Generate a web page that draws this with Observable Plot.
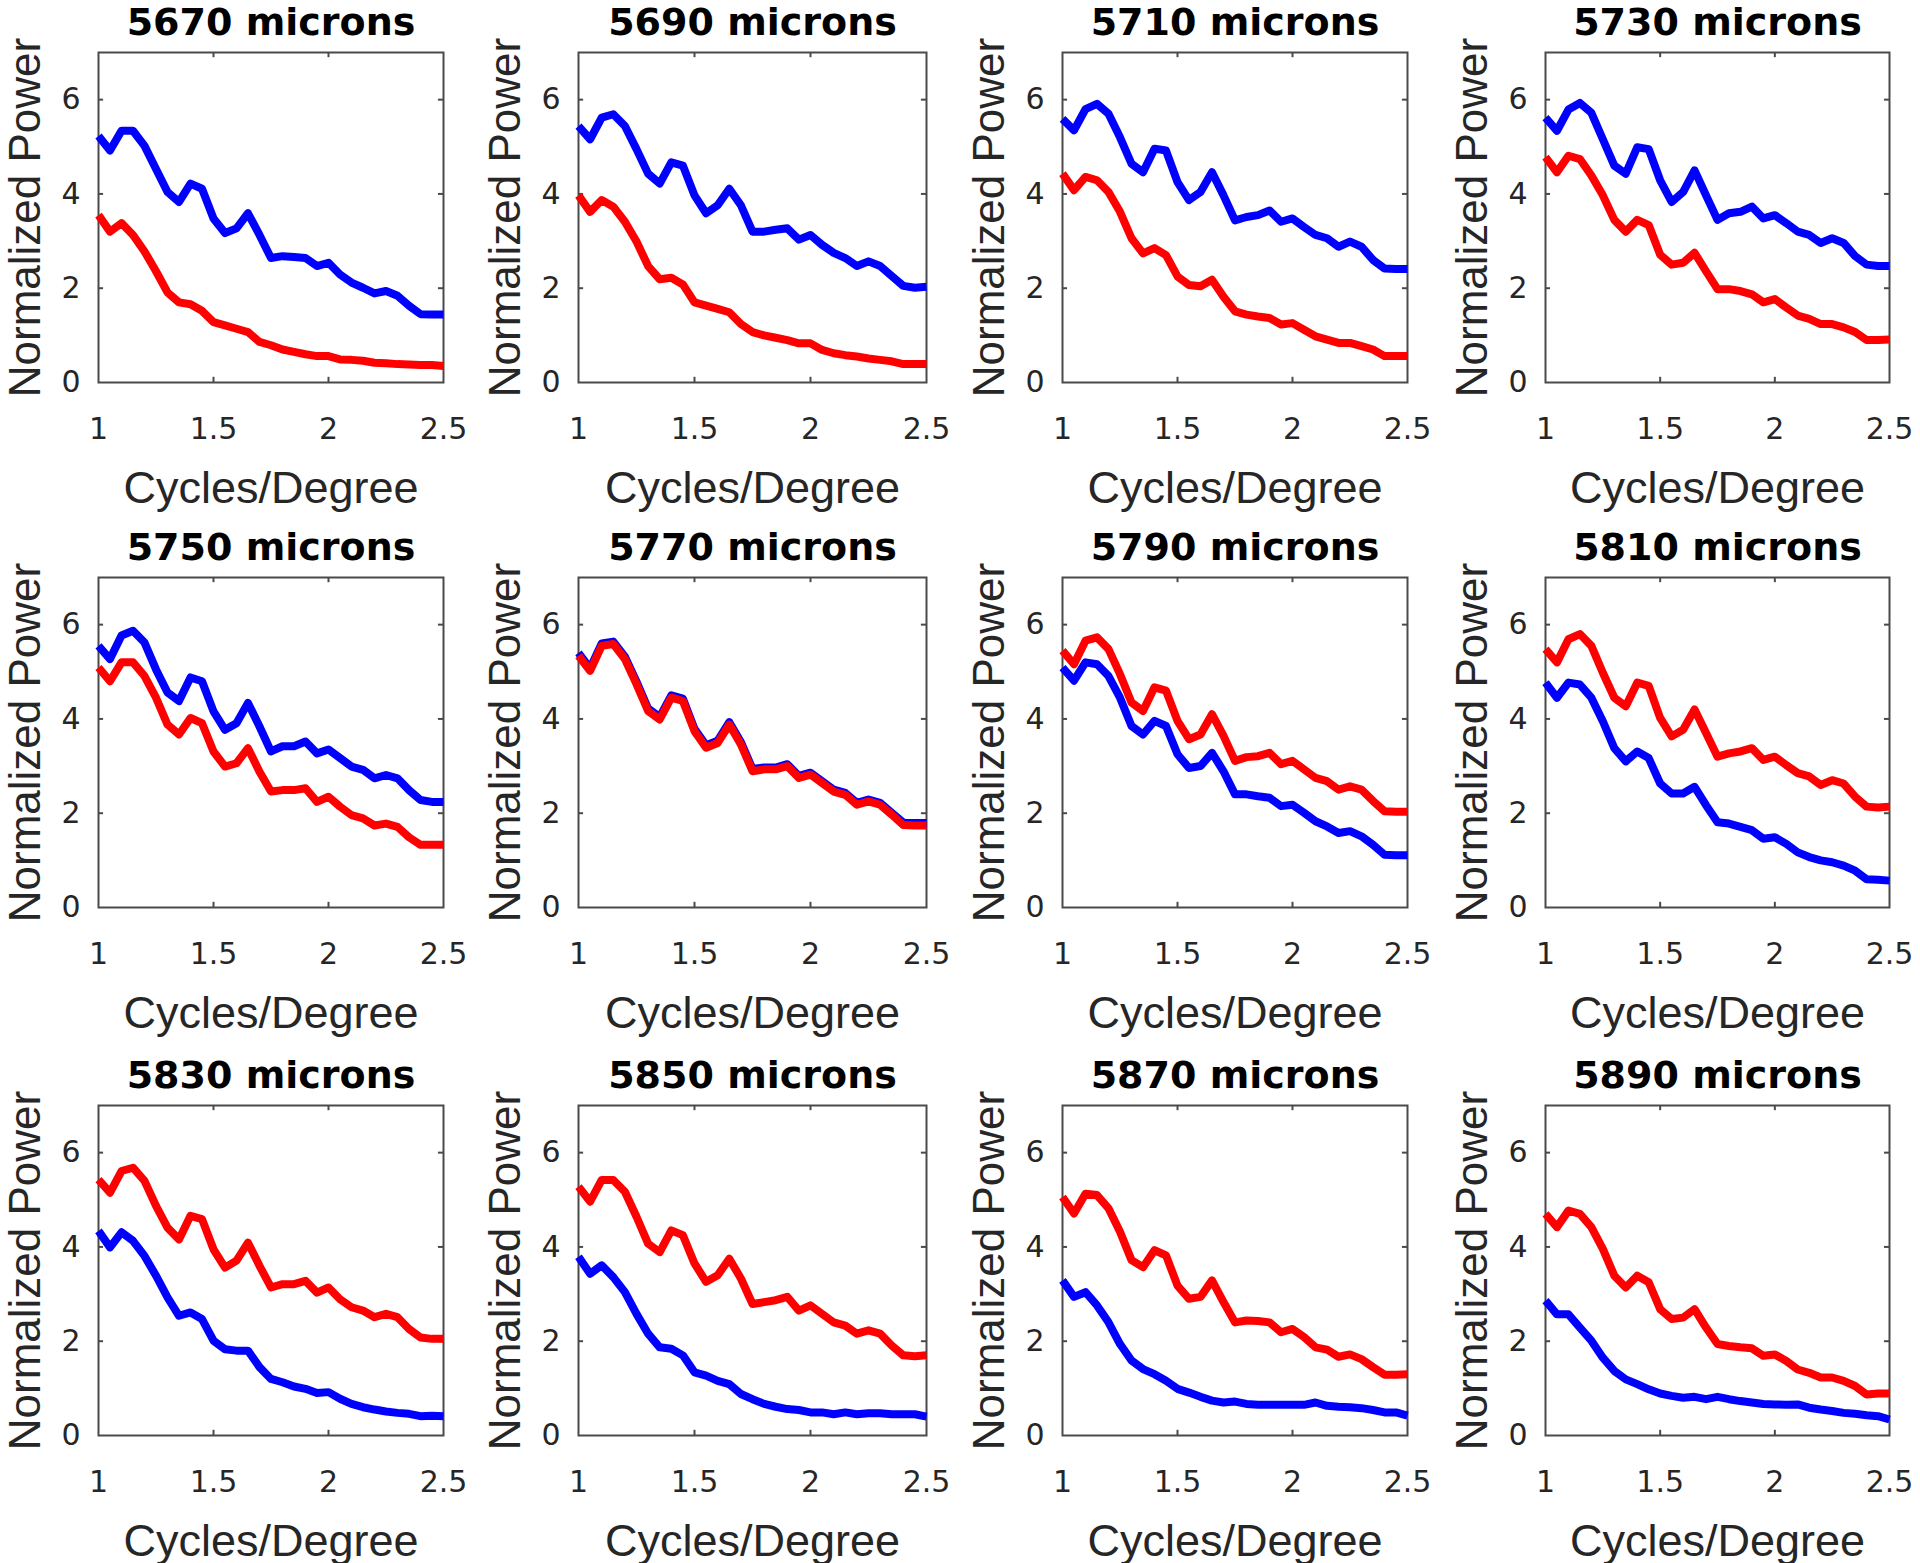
<!DOCTYPE html>
<html>
<head>
<meta charset="utf-8">
<script src="https://cdn.jsdelivr.net/npm/d3@7"></script>
<script src="https://cdn.jsdelivr.net/npm/@observablehq/plot@0.6"></script>
<style>
  html, body { margin: 0; padding: 0; background: #fff; overflow: hidden; }
  #fig { position: relative; width: 1920px; height: 1563px; background: #fff; }
  #fig svg { position: absolute; overflow: visible; }
</style>
</head>
<body>
<div id="fig"></div>
<script>
// ---- data ----
const freq = [1.00,1.05,1.10,1.15,1.20,1.25,1.30,1.35,1.40,1.45,1.50,1.55,1.60,1.65,1.70,1.75,1.80,1.85,1.90,1.95,2.00,2.05,2.10,2.15,2.20,2.25,2.30,2.35,2.40,2.45,2.50];
const depths = [5670, 5690, 5710, 5730, 5750, 5770, 5790, 5810, 5830, 5850, 5870, 5890];
const xTickLabels = [1, 1.5, 2, 2.5];
const yTickLabels = [0, 2, 4, 6];
const xInnerTicks = [1.5, 2];
const yInnerTicks = [2, 4, 6];

const b5670 = [5.23,4.92,5.34,5.34,5.02,4.53,4.04,3.83,4.22,4.11,3.48,3.17,3.27,3.59,3.13,2.64,2.68,2.66,2.64,2.47,2.54,2.29,2.12,2.01,1.89,1.94,1.84,1.63,1.45,1.44,1.44];
const r5670 = [3.55,3.20,3.38,3.13,2.78,2.36,1.91,1.70,1.66,1.52,1.28,1.21,1.14,1.07,0.86,0.79,0.70,0.65,0.60,0.56,0.56,0.49,0.48,0.46,0.42,0.41,0.39,0.38,0.37,0.37,0.35];

const b5690 = [5.44,5.16,5.62,5.69,5.44,4.95,4.43,4.22,4.67,4.60,3.97,3.59,3.76,4.11,3.76,3.20,3.20,3.24,3.27,3.03,3.13,2.92,2.75,2.64,2.47,2.57,2.47,2.26,2.05,2.01,2.03];
const r5690 = [3.97,3.62,3.87,3.73,3.41,2.99,2.47,2.19,2.22,2.08,1.70,1.63,1.56,1.49,1.24,1.07,1.00,0.95,0.90,0.83,0.83,0.69,0.62,0.58,0.55,0.51,0.48,0.45,0.39,0.39,0.39];

const b5710 = [5.59,5.35,5.80,5.91,5.70,5.20,4.64,4.46,4.96,4.92,4.25,3.87,4.04,4.46,3.97,3.44,3.51,3.55,3.65,3.41,3.48,3.30,3.13,3.06,2.88,2.99,2.88,2.60,2.42,2.41,2.41];
const r5710 = [4.43,4.08,4.36,4.29,4.04,3.62,3.06,2.74,2.85,2.70,2.25,2.07,2.04,2.18,1.82,1.51,1.44,1.40,1.37,1.23,1.26,1.12,0.98,0.91,0.84,0.84,0.77,0.70,0.56,0.56,0.56];

const b5730 = [5.62,5.34,5.79,5.93,5.72,5.16,4.60,4.43,4.99,4.95,4.29,3.83,4.04,4.50,3.97,3.45,3.59,3.62,3.73,3.48,3.55,3.38,3.20,3.13,2.96,3.06,2.96,2.68,2.50,2.47,2.47];
const r5730 = [4.78,4.46,4.81,4.74,4.39,3.97,3.45,3.20,3.45,3.34,2.71,2.50,2.54,2.75,2.36,1.98,1.98,1.94,1.87,1.70,1.77,1.59,1.42,1.35,1.24,1.24,1.17,1.07,0.90,0.90,0.91];

const b5750 = [5.55,5.27,5.77,5.87,5.62,5.05,4.56,4.38,4.88,4.80,4.16,3.77,3.91,4.34,3.84,3.31,3.42,3.42,3.52,3.27,3.35,3.17,2.99,2.92,2.74,2.81,2.74,2.49,2.28,2.24,2.24];
const r5750 = [5.09,4.80,5.20,5.20,4.91,4.45,3.88,3.67,4.02,3.91,3.31,2.99,3.06,3.38,2.88,2.46,2.49,2.49,2.53,2.24,2.35,2.14,1.96,1.89,1.74,1.78,1.71,1.49,1.33,1.33,1.33];

const b5770 = [5.40,5.07,5.60,5.64,5.32,4.79,4.22,4.04,4.50,4.43,3.79,3.44,3.54,3.93,3.51,2.94,2.97,2.97,3.04,2.79,2.86,2.68,2.50,2.43,2.22,2.29,2.22,2.01,1.80,1.79,1.79];
const r5770 = [5.34,5.02,5.55,5.59,5.27,4.74,4.17,3.99,4.45,4.38,3.74,3.39,3.49,3.88,3.46,2.89,2.93,2.93,3.00,2.75,2.82,2.64,2.46,2.39,2.18,2.25,2.18,1.97,1.75,1.74,1.74];

const b5790 = [5.09,4.81,5.20,5.16,4.91,4.45,3.85,3.67,3.96,3.85,3.25,2.96,3.00,3.28,2.89,2.40,2.40,2.36,2.33,2.15,2.18,2.01,1.83,1.72,1.58,1.62,1.51,1.33,1.12,1.11,1.11];
const r5790 = [5.45,5.16,5.66,5.73,5.48,4.95,4.35,4.17,4.67,4.60,3.96,3.57,3.67,4.10,3.64,3.11,3.19,3.21,3.28,3.04,3.11,2.93,2.75,2.68,2.50,2.57,2.50,2.26,2.04,2.03,2.03];

const b5810 = [4.77,4.45,4.77,4.73,4.45,3.95,3.38,3.10,3.31,3.17,2.63,2.42,2.42,2.56,2.17,1.81,1.78,1.71,1.64,1.46,1.49,1.35,1.17,1.07,1.00,0.96,0.89,0.78,0.60,0.59,0.57];
const r5810 = [5.48,5.20,5.69,5.80,5.55,4.98,4.45,4.27,4.77,4.70,4.02,3.63,3.77,4.20,3.70,3.20,3.27,3.31,3.38,3.13,3.20,3.02,2.85,2.78,2.60,2.70,2.63,2.35,2.14,2.12,2.14];

const b5830 = [4.34,3.99,4.31,4.13,3.81,3.39,2.93,2.54,2.61,2.47,2.01,1.83,1.80,1.80,1.45,1.20,1.13,1.04,0.99,0.90,0.92,0.78,0.67,0.60,0.55,0.51,0.48,0.46,0.41,0.42,0.41];
const r5830 = [5.43,5.15,5.61,5.68,5.40,4.87,4.41,4.16,4.66,4.59,3.95,3.56,3.71,4.09,3.60,3.14,3.21,3.21,3.28,3.03,3.14,2.89,2.72,2.65,2.51,2.58,2.51,2.26,2.08,2.05,2.05];

const b5850 = [3.79,3.43,3.61,3.36,3.04,2.58,2.16,1.87,1.84,1.70,1.34,1.27,1.16,1.09,0.88,0.77,0.67,0.61,0.56,0.54,0.49,0.49,0.45,0.49,0.45,0.47,0.47,0.45,0.45,0.45,0.40];
const r5850 = [5.28,4.96,5.42,5.42,5.17,4.64,4.07,3.89,4.35,4.25,3.65,3.26,3.40,3.75,3.33,2.79,2.83,2.87,2.94,2.65,2.76,2.58,2.40,2.33,2.16,2.23,2.16,1.91,1.70,1.68,1.70];

const b5870 = [3.29,2.94,3.04,2.76,2.40,1.94,1.59,1.41,1.30,1.16,0.99,0.91,0.82,0.74,0.70,0.72,0.67,0.65,0.65,0.65,0.65,0.65,0.70,0.63,0.61,0.60,0.58,0.54,0.49,0.49,0.42];
const r5870 = [5.06,4.71,5.13,5.10,4.82,4.32,3.72,3.57,3.93,3.82,3.18,2.90,2.94,3.29,2.83,2.40,2.44,2.43,2.40,2.19,2.26,2.09,1.87,1.82,1.67,1.72,1.62,1.45,1.29,1.29,1.30];

const b5890 = [2.86,2.57,2.57,2.29,2.01,1.65,1.37,1.19,1.09,0.98,0.89,0.84,0.80,0.82,0.77,0.82,0.77,0.73,0.70,0.67,0.66,0.65,0.66,0.59,0.55,0.52,0.48,0.46,0.43,0.41,0.34];
const r5890 = [4.70,4.42,4.77,4.70,4.42,3.96,3.39,3.14,3.39,3.25,2.68,2.47,2.50,2.68,2.29,1.94,1.90,1.87,1.85,1.69,1.72,1.58,1.40,1.33,1.23,1.23,1.16,1.05,0.87,0.89,0.89];

const blueList = [b5670,b5690,b5710,b5730,b5750,b5770,b5790,b5810,b5830,b5850,b5870,b5890];
const redList  = [r5670,r5690,r5710,r5730,r5750,r5770,r5790,r5810,r5830,r5850,r5870,r5890];

// ---- layout (pixels) ----
const frameLeft = [98, 578, 1062, 1545];
const frameWidth = [345, 348, 345, 344];
const frameTop = [52, 577, 1105];
const frameHeight = 330;
const mLeft = 98, mTop = 52, mBottom = 140;

const toRows = (vals) => freq.map((f, i) => ({f, v: vals[i]}));
const fig = document.getElementById("fig");
const frameColor = "#4a4a4a";
const textColor = "#262626";

depths.forEach((depth, k) => {
  const col = k % 4, row = Math.floor(k / 4);
  const w = frameWidth[col];
  const width = mLeft + w + 40;
  const height = mTop + frameHeight + mBottom;
  const chart = Plot.plot({
    width, height,
    marginLeft: mLeft, marginRight: width - mLeft - w,
    marginTop: mTop, marginBottom: mBottom,
    x: {domain: [1, 2.5], axis: null},
    y: {domain: [0, 7], axis: null},
    style: {background: "transparent", overflow: "visible"},
    marks: [
      Plot.frame({stroke: frameColor, strokeWidth: 2}),
      Plot.ruleX(xInnerTicks, {x: d => d, y1: 0, y2: 0.11, stroke: frameColor, strokeWidth: 2}),
      Plot.ruleX(xInnerTicks, {x: d => d, y1: 6.89, y2: 7, stroke: frameColor, strokeWidth: 2}),
      Plot.ruleY(yInnerTicks, {y: d => d, x1: 1, x2: 1.022, stroke: frameColor, strokeWidth: 2}),
      Plot.ruleY(yInnerTicks, {y: d => d, x1: 2.478, x2: 2.5, stroke: frameColor, strokeWidth: 2}),
      Plot.line(toRows(blueList[k]), {x: "f", y: "v", stroke: "#0000ff", strokeWidth: 8, strokeLinejoin: "round", strokeLinecap: "butt"}),
      Plot.line(toRows(redList[k]), {x: "f", y: "v", stroke: "#ff0000", strokeWidth: 8, strokeLinejoin: "round", strokeLinecap: "butt"}),
      Plot.text(xTickLabels, {x: d => d, frameAnchor: "bottom", dy: 35, lineAnchor: "top", textAnchor: "middle", text: d => String(d),
        fontSize: 30, fontFamily: "DejaVu Sans", fill: textColor}),
      Plot.text(yTickLabels, {y: d => d, frameAnchor: "left", dx: -18, textAnchor: "end", lineAnchor: "middle", text: d => String(d),
        fontSize: 30, fontFamily: "DejaVu Sans", fill: textColor}),
      Plot.text([`${depth} microns`], {frameAnchor: "top", dy: -30, lineAnchor: "middle", textAnchor: "middle", text: d => d,
        fontSize: 38, fontWeight: "bold", fontFamily: "DejaVu Sans", fill: "#000"}),
      Plot.text(["Cycles/Degree"], {frameAnchor: "bottom", dy: 106, lineAnchor: "middle", textAnchor: "middle", text: d => d,
        fontSize: 45, fontFamily: "Liberation Sans, Arial, sans-serif", fill: textColor}),
      Plot.text(["Normalized Power"], {frameAnchor: "left", dx: -73, rotate: -90, lineAnchor: "middle", textAnchor: "middle", text: d => d,
        fontSize: 44, fontFamily: "Liberation Sans, Arial, sans-serif", fill: textColor})
    ]
  });
  chart.style.left = (frameLeft[col] - mLeft) + "px";
  chart.style.top = (frameTop[row] - mTop) + "px";
  fig.appendChild(chart);
});
</script>
</body>
</html>
